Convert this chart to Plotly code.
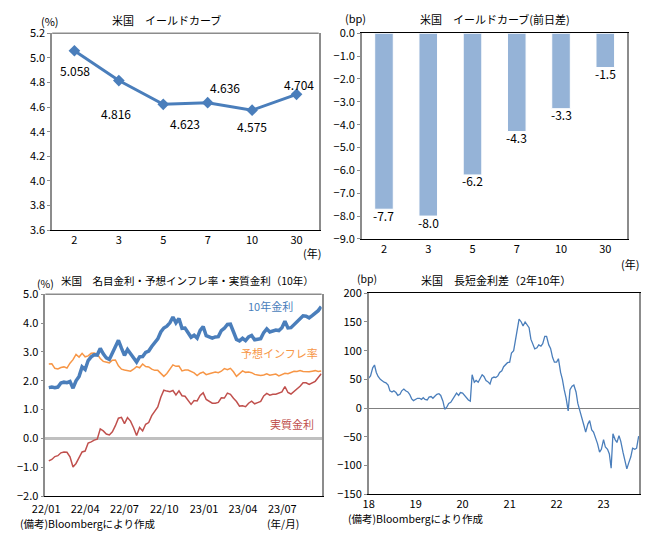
import pandas as pd
import plotly.graph_objects as go
from plotly.subplots import make_subplots

W, H = 648, 537
FONT = "Noto Sans CJK JP"

# イールドカーブ
tenors = ["2", "3", "5", "7", "10", "30"]
yields = [5.058, 4.816, 4.623, 4.636, 4.575, 4.704]
yield_chg = [-7.7, -8.0, -6.2, -4.3, -3.3, -1.5]

# 名目金利・予想インフレ率・実質金利（10年, 週次 2022/01/07~）
nominal_10y = [
    1.76, 1.78, 1.76, 1.78, 1.92, 1.95, 1.93, 1.97, 1.74, 2.00,
    2.15, 2.48, 2.39, 2.70, 2.83, 2.90, 2.89, 3.12, 2.93, 2.79,
    2.74, 2.94, 3.15, 3.40, 3.13, 2.88, 3.08, 2.93, 2.77, 2.65,
    2.83, 2.84, 2.98, 3.03, 3.19, 3.32, 3.45, 3.69, 3.83, 3.89,
    4.01, 4.21, 4.01, 4.16, 3.82, 3.83, 3.68, 3.51, 3.58, 3.48,
    3.75, 3.88,
    3.56, 3.51, 3.48, 3.52, 3.53, 3.74, 3.82, 3.95, 3.96, 3.70,
    3.43, 3.38, 3.47, 3.39, 3.52, 3.57, 3.42, 3.44, 3.46, 3.67,
    3.80, 3.69, 3.74, 3.76, 3.74, 3.84, 4.06, 3.83, 3.84, 3.95,
    4.03, 4.16, 4.25, 4.24, 4.18, 4.26, 4.33, 4.43, 4.57,
]
bei_10y = [
    2.58, 2.59, 2.43, 2.41, 2.46, 2.48, 2.44, 2.61, 2.73, 2.91,
    2.82, 2.95, 2.83, 2.86, 2.95, 2.96, 2.92, 2.77, 2.67, 2.64,
    2.62, 2.71, 2.72, 2.52, 2.40, 2.37, 2.36, 2.33, 2.40, 2.49,
    2.45, 2.58, 2.49, 2.48, 2.40, 2.36, 2.36, 2.26, 2.15, 2.25,
    2.39, 2.55, 2.50, 2.51, 2.34, 2.37, 2.37, 2.33, 2.27, 2.18,
    2.26, 2.30,
    2.21, 2.24, 2.26, 2.30, 2.28, 2.33, 2.42, 2.38, 2.43, 2.31,
    2.15, 2.26, 2.34, 2.29, 2.30, 2.28, 2.22, 2.20, 2.18, 2.20,
    2.24, 2.19, 2.21, 2.23, 2.17, 2.23, 2.26, 2.24, 2.30, 2.33,
    2.32, 2.35, 2.32, 2.31, 2.31, 2.33, 2.35, 2.32, 2.34,
]
real_10y = [
    -0.78, -0.73, -0.63, -0.60, -0.50, -0.47, -0.48, -0.64, -0.99, -0.87,
    -0.67, -0.47, -0.44, -0.16, -0.12, -0.06, -0.03, 0.33, 0.26, 0.15,
    0.12, 0.23, 0.44, 0.70, 0.73, 0.51, 0.72, 0.60, 0.37, 0.10,
    0.38, 0.26, 0.49, 0.55, 0.79, 0.96, 1.09, 1.43, 1.67, 1.64,
    1.62, 1.66, 1.51, 1.65, 1.48, 1.46, 1.31, 1.18, 1.31, 1.30,
    1.49, 1.58,
    1.35, 1.27, 1.22, 1.22, 1.25, 1.41, 1.40, 1.57, 1.53, 1.39,
    1.28, 1.12, 1.13, 1.10, 1.22, 1.29, 1.20, 1.24, 1.28, 1.47,
    1.56, 1.50, 1.53, 1.53, 1.57, 1.61, 1.80, 1.59, 1.54, 1.62,
    1.71, 1.81, 1.93, 1.93, 1.87, 1.93, 1.98, 2.11, 2.24,
]

# 長短金利差（2年10年, bp, 半月次 2018/01/01~）
spread_2s10s = [
    52, 56, 70, 75, 62, 55, 50, 47, 45, 44, 40, 30, 28, 30, 27, 22, 24, 30, 33, 30, 28, 24, 16, 13,
    16, 17, 17, 15, 18, 15, 14, 19, 20, 17, 21, 24, 25, 22, 12, -2, 2, 8, 10, 15, 20, 26, 22, 27,
    26, 22, 18, 14, 12, 58, 45, 48, 45, 50, 58, 55, 48, 46, 42, 52, 54, 53, 56, 62, 65, 72, 75, 79,
    80, 96, 100, 118, 135, 155, 150, 143, 150, 146, 140, 120, 112, 103, 105, 110, 108, 112, 125, 125, 110, 104, 88, 80,
    80, 86, 62, 50, 32, 18, -5, 32, 38, 40, 28, 8, -5, -15, -30, -42, -28, -22, -38, -42, -52, -62, -77, -72,
    -55, -68, -72, -80, -105, -45, -55, -60, -48, -58, -77, -92, -106, -96, -85, -70, -72, -70, -49,
]

weeks = pd.date_range("2022-01-07", periods=len(nominal_10y), freq="W-FRI")
half_months = pd.date_range("2018-01-01", periods=len(spread_2s10s), freq="SMS")

BLUE = "#4A7EBB"
ORANGE = "#F79646"
RED = "#C0504D"
BAR = "#95B3D7"
GRAY = "#8C8C8C"


def px(x0, x1):
    return [x0 / W, x1 / W]


def py(y0, y1):
    return [1 - y1 / H, 1 - y0 / H]


fig = make_subplots(rows=2, cols=2)

# 米国 イールドカーブ
fig.add_trace(go.Scatter(x=tenors, y=yields, mode="lines+markers",
                         line=dict(color=BLUE, width=3),
                         marker=dict(symbol="diamond", size=9, color=BLUE)), row=1, col=1)

# 前日差
fig.add_trace(go.Bar(x=tenors, y=yield_chg, marker=dict(color=BAR, line=dict(color="white", width=1)),
                     width=0.42), row=1, col=2)

# 名目・BEI・実質
fig.add_trace(go.Scatter(x=weeks, y=bei_10y, mode="lines", line=dict(color=ORANGE, width=1.5)), row=2, col=1)
fig.add_trace(go.Scatter(x=weeks, y=real_10y, mode="lines", line=dict(color=RED, width=1.5)), row=2, col=1)
fig.add_trace(go.Scatter(x=weeks, y=nominal_10y, mode="lines", line=dict(color=BLUE, width=3.5)), row=2, col=1)

# 長短金利差
fig.add_trace(go.Scatter(x=half_months, y=spread_2s10s, mode="lines", line=dict(color=BLUE, width=1.3)), row=2, col=2)

tick_font = dict(family=FONT, size=11, color="black")
ax_common = dict(showgrid=False, tickfont=tick_font, showline=True)

fig.update_layout(
    width=W, height=H, margin=dict(l=0, r=0, t=0, b=0),
    paper_bgcolor="white", plot_bgcolor="white", showlegend=False,
    font=dict(family=FONT, size=11, color="black"),
    xaxis=dict(domain=px(40, 312), type="category", range=[-0.5, 5.5], linecolor="black", **ax_common),
    yaxis=dict(domain=py(25, 228), range=[3.6, 5.2], dtick=0.2, tickformat=".1f",
               linecolor=GRAY, linewidth=1.5, mirror=True, ticks="outside", ticklen=3, tickcolor=GRAY, **ax_common),
    xaxis2=dict(domain=px(356, 627), type="category", range=[-0.5, 5.5], linecolor="black", mirror=True,
                side="bottom", **ax_common),
    yaxis2=dict(domain=py(25, 237), range=[-9, 0], dtick=1, tickformat=".1f", zeroline=False,
                linecolor=GRAY, linewidth=1.5, mirror=True, ticks="outside", ticklen=3, tickcolor=GRAY, **ax_common),
    xaxis3=dict(domain=px(33, 315), type="date", range=["2021-12-30", "2023-09-30"], dtick="M3",
                tick0="2022-01-01", tickformat="%y/%m", linecolor="black", ticklabelstandoff=3, **ax_common),
    yaxis3=dict(domain=py(294, 502), range=[-2, 5], dtick=1, tickformat=".1f",
                zeroline=True, zerolinecolor="#C0C0C0", zerolinewidth=2.5,
                linecolor=GRAY, linewidth=1.5, mirror=True, ticks="outside", ticklen=3, tickcolor=GRAY, **ax_common),
    xaxis4=dict(domain=px(363, 639), type="date", range=["2018-01-01", "2023-10-05"], dtick="M12",
                tick0="2018-01-01", tickformat="%y", linecolor="black", mirror=True, **ax_common),
    yaxis4=dict(domain=py(293, 500), range=[-150, 200], dtick=50,
                zeroline=True, zerolinecolor="#808080", zerolinewidth=1,
                linecolor=GRAY, linewidth=1.5, mirror=True, ticks="outside", ticklen=3, tickcolor=GRAY, **ax_common),
)

# 上辺（灰色）
for xr, yr in [("x domain", "y domain"), ("x3 domain", "y3 domain")]:
    fig.add_shape(type="line", xref=xr, yref=yr, x0=0, x1=1, y0=1, y1=1, line=dict(color=GRAY, width=1.5))

# イールドカーブのデータラベル
label_shift = [(1, -20), (-3, -33), (22, -19), (17, 15), (0, -16), (2, 10)]
for i, (v, (dx, dy)) in enumerate(zip(yields, label_shift)):
    fig.add_annotation(x=i, y=v, xref="x", yref="y", text=f"{v:.3f}", showarrow=False,
                       xshift=dx, yshift=dy, font=dict(size=12))

# 前日差のデータラベル（棒の先端）
for i, v in enumerate(yield_chg):
    fig.add_annotation(x=i, y=v, xref="x2", yref="y2", text=f"{v:.1f}", showarrow=False,
                       yanchor="middle", yshift=-6, font=dict(size=12))


def text_at(x, y, s, color="black", size=11, anchor="center"):
    fig.add_annotation(x=x / W, y=1 - y / H, xref="paper", yref="paper", text=s, showarrow=False,
                       xanchor=anchor, yanchor="middle", font=dict(size=size, color=color))


text_at(157, 11, "米国　イールドカーブ")
text_at(38, 12, "(%)")
text_at(305, 251, "(年)")
text_at(492, 10, "米国　イールドカーブ(前日差)")
text_at(350, 9, "(bp)")
text_at(630, 263, "(年)")

text_at(178, 280, "米国　名目金利・予想インフレ率・実質金利（10年）", size=10.5)
text_at(33, 283, "(%)", size=10.5)
text_at(263, 306, "10年金利", color=BLUE)
text_at(272, 355, "予想インフレ率", color=ORANGE)
text_at(285, 428, "実質金利", color=RED)
text_at(5, 530, "(備考)Bloombergにより作成", size=10.5, anchor="left")
text_at(276, 530, "(年/月)", size=10.5)

text_at(493, 279, "米国　長短金利差（2年10年）")
text_at(361, 278, "(bp)", size=10.5)
text_at(340, 525, "(備考)Bloombergにより作成", size=10.5, anchor="left")

# ページ既定の余白を消して 648x537 の窓にぴったり収める
fig.write_html("out.html", config={"displayModeBar": False},
               post_script="document.body.style.margin = '0';")
